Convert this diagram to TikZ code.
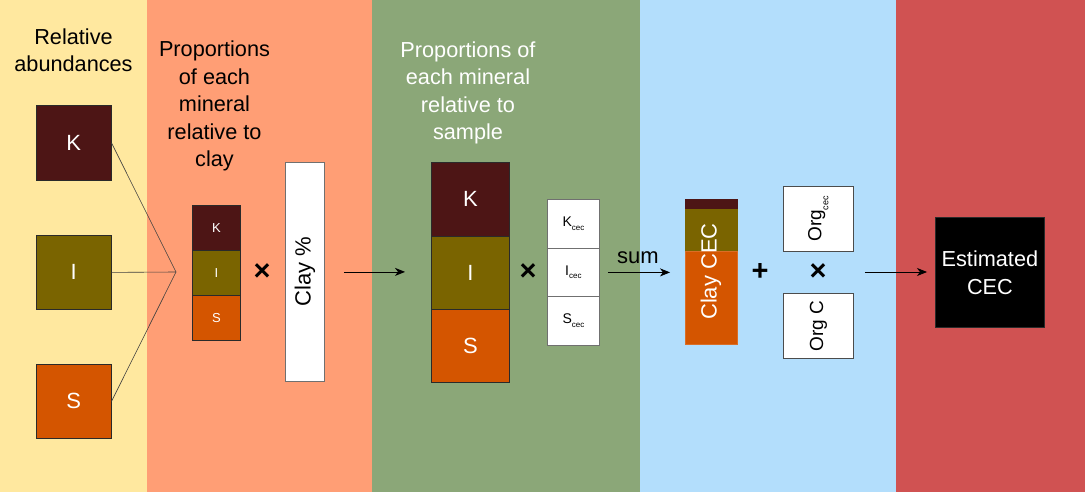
\documentclass[tikz,border=0pt]{standalone}
\usepackage{fontspec}
\setmainfont{Liberation Sans}
\usetikzlibrary{arrows.meta}
\definecolor{bgY}{HTML}{FFE89F}
\definecolor{bgS}{HTML}{FF9E75}
\definecolor{bgG}{HTML}{8BA778}
\definecolor{bgB}{HTML}{B3DEFC}
\definecolor{bgR}{HTML}{D05252}
\definecolor{kcol}{HTML}{4D1515}
\definecolor{icol}{HTML}{7A6400}
\definecolor{scol}{HTML}{D45500}
\definecolor{edge}{HTML}{2A2A2A}
\definecolor{greyedge}{HTML}{707070}
\newcommand{\fsz}[2]{\fontsize{#1}{#2}\selectfont}
\newcommand{\cecsub}[1]{#1\raisebox{-3.5pt}{\fsz{8}{10}cec}}
\begin{document}
\begin{tikzpicture}[x=1pt,y=-1pt,
  blk/.style={draw=edge,line width=0.8pt,inner sep=0pt,anchor=north west,text=white},
  wbox/.style={draw=greyedge,line width=0.8pt,fill=white,inner sep=0pt,anchor=north west},
  title/.style={align=center,font=\fsz{21.7}{27.5}},
  big/.style={font=\fsz{22}{27.5}},
  op/.style={font=\fsz{29}{29}\bfseries,inner sep=0pt},
  link/.style={draw=edge!90,line width=0.6pt},
  arr/.style={draw=black,line width=0.8pt,-{Stealth[length=10pt,width=8pt,inset=3pt]}}]
\useasboundingbox (0,0) rectangle (1085,492);
% panels
\fill[bgY] (0,0) rectangle (147,492);
\fill[bgS] (147,0) rectangle (372,492);
\fill[bgG] (372,0) rectangle (640,492);
\fill[bgB] (640,0) rectangle (896,492);
\fill[bgR] (896,0) rectangle (1085,492);
% titles
\node[title] (t1) at (73.5,50) {Relative\\abundances};
\node[title] (t2) at (214.5,106) {Proportions\\of each\\mineral\\relative to\\clay};
\node[title,text=white] (t3) at (468,93) {Proportions of\\each mineral\\relative to\\sample};
% relative abundance squares
\node[blk,fill=kcol,minimum width=74.7pt,minimum height=75pt,big] (kA) at (36,105) {K};
\node[blk,fill=icol,minimum width=74.7pt,minimum height=74pt,big] (iA) at (36,235) {I};
\node[blk,fill=scol,minimum width=74.7pt,minimum height=74pt,big] (sA) at (36,364) {S};
\coordinate (junc) at (176,272);
\draw[link] (kA.east) -- (junc);
\draw[link] (iA.east) -- (junc);
\draw[link] (sA.east) -- (junc);
% small stack
\node[blk,fill=kcol,minimum width=48pt,minimum height=45pt,font=\fsz{13}{14}] (kB) at (192,205) {K};
\node[blk,fill=icol,minimum width=48pt,minimum height=45pt,font=\fsz{13}{14}] (iB) at (192,250) {I};
\node[blk,fill=scol,minimum width=48pt,minimum height=45pt,font=\fsz{13}{14}] (sB) at (192,295) {S};
\node[op] (x1) at (262,272) {×};
\node[wbox,minimum width=39pt,minimum height=219pt] (clay) at (285,162) {};
\node[big,rotate=90] (clayT) at (clay.center) {Clay \%};
% green stack
\node[blk,fill=kcol,minimum width=78pt,minimum height=74pt,big] (kC) at (431,162) {K};
\node[blk,fill=icol,minimum width=78pt,minimum height=73pt,big] (iC) at (431,236) {I};
\node[blk,fill=scol,minimum width=78pt,minimum height=73pt,big] (sC) at (431,309) {S};
\draw[arr,shorten <=19pt,shorten >=26pt] (clay.east) -- (clay.east -| iC.west);
\node[op] (x2) at (528,272) {×};
\node[wbox,minimum width=52pt,minimum height=49pt,font=\fsz{14}{16}] (kcec) at (547,199) {\cecsub{K}};
\node[wbox,minimum width=52pt,minimum height=48pt,font=\fsz{14}{16}] (icec) at (547,248) {\cecsub{I}};
\node[wbox,minimum width=52pt,minimum height=49pt,font=\fsz{14}{16}] (scec) at (547,296) {\cecsub{S}};
% clay CEC bar
\node[draw=kcol,line width=0.5pt,fill=kcol,inner sep=0pt,anchor=north west,minimum width=52pt,minimum height=10pt] (cK) at (685,199) {};
\node[draw=icol,line width=0.5pt,fill=icol,inner sep=0pt,anchor=north west,minimum width=52pt,minimum height=42pt] (cI) at (685,209) {};
\node[draw=scol!85!white,line width=0.8pt,fill=scol,inner sep=0pt,anchor=north west,minimum width=52pt,minimum height=93pt] (cS) at (685,251) {};
\node[big,rotate=90,text=white] (cecT) at (711,271.5) {Clay CEC};
\draw[arr,shorten <=8pt,shorten >=15pt] (icec.east) -- (icec.east -| cS.west);
\node[big,anchor=base] (sum) at (638,263) {sum};
\node[op] (plus) at (760,272) {+};
\node[wbox,draw=black!70,minimum width=70pt,minimum height=65pt] (orgcec) at (783,186) {};
\node[rotate=90,font=\fsz{19}{22}] (orgcecT) at (orgcec.center) {Org\raisebox{-7pt}{\fsz{9}{12}cec}};
\node[op] (x3) at (818,272) {×};
\node[wbox,draw=black!70,minimum width=70pt,minimum height=65pt] (orgc) at (783,293) {};
\node[rotate=90,font=\fsz{19}{22}] (orgcT) at (orgc.center) {Org C};
% estimated
\node[blk,fill=black,minimum width=109pt,minimum height=110pt,align=center,font=\fsz{21.7}{28}] (est) at (935,217) {Estimated\\CEC};
\draw[arr,shorten <=11pt,shorten >=8pt] (orgc.east |- x3) -- (est.west |- x3);
\end{tikzpicture}
\end{document}
